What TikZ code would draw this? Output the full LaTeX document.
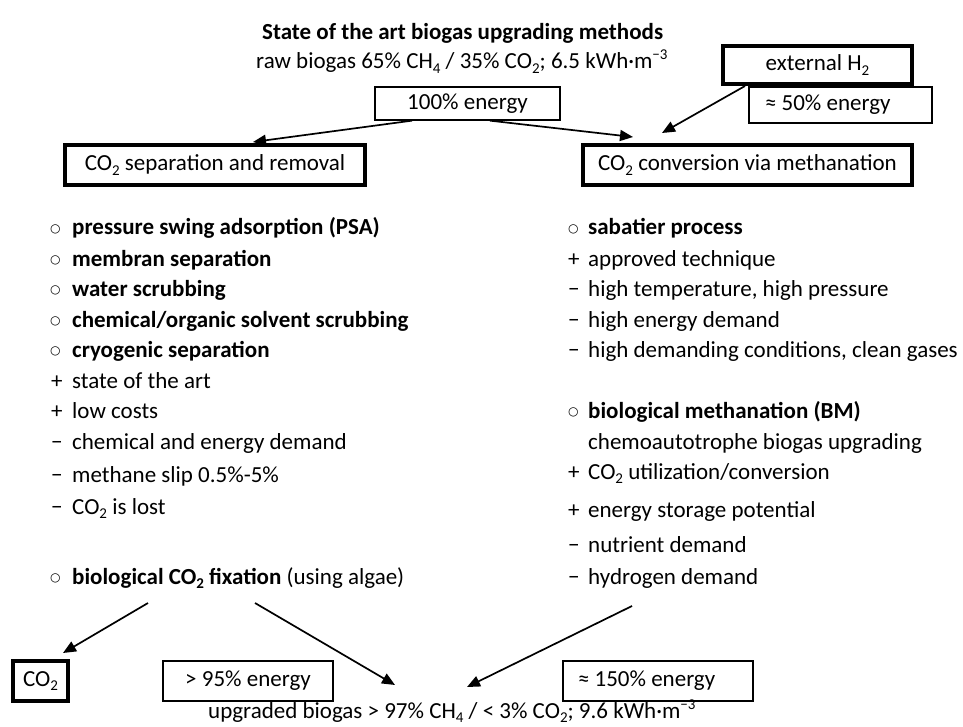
\documentclass[tikz,border=0pt]{standalone}
\usepackage{fontspec}
\setmainfont{Carlito}
\newfontfamily\symfont{DejaVu Sans}
\usetikzlibrary{arrows.meta}
\newcommand{\circb}{\raisebox{2.2pt}{\symfont\fontsize{12}{12}\selectfont ○}}
\newcommand{\mk}[2]{\makebox[#1][l]{#2}}
\newcommand{\sbs}[1]{\raisebox{-4.5pt}{\fontsize{15}{15}\selectfont #1}}
\newcommand{\sps}[1]{\raisebox{9pt}{\fontsize{15}{15}\selectfont #1}}
\begin{document}
\begin{tikzpicture}[x=1pt,y=-1pt,
  every node/.style={font=\fontsize{23}{27}\selectfont, inner sep=0pt},
  txt/.style={anchor=base west},
  thinbox/.style={draw, line width=1.3pt},
  thickbox/.style={draw, line width=4pt},
  arr/.style={line width=1.7pt, -{Triangle[length=13pt,width=11pt]}}]
\useasboundingbox[fill=white] (0,0) rectangle (963,727);

% header
\node[txt] (title) at (262,40) {\textbf{State of the art biogas upgrading methods}};
\node[txt] (raw) at (256,69) {raw biogas 65\% CH\sbs{4} / 35\% CO\sbs{2}; 6.5 kWh·m\sps{−3}};

% boxes top
\node[thinbox, minimum width=185pt, minimum height=33pt] (e100) at (467.5,103.5) {100\% energy};
\node[thickbox, minimum width=189pt, minimum height=38pt] (ext) at (817.5,65) {external H\sbs{2}};
\node[thinbox, minimum width=183pt, minimum height=36pt] (e50) at (840.5,105) {\makebox[183pt][l]{\hspace{16pt}≈ 50\% energy}};
\node[thickbox, minimum width=300pt, minimum height=40pt] (sep) at (215,165) {CO\sbs{2} separation and removal};
\node[thickbox, minimum width=329pt, minimum height=40pt] (conv) at (747.5,165) {CO\sbs{2} conversion via methanation};

% left list
\node[txt] (l1) at (50,235) {\mk{22pt}{\circb}\textbf{pressure swing adsorption (PSA)}};
\node[txt] (l2) at (50,266) {\mk{22pt}{\circb}\textbf{membran separation}};
\node[txt] (l3) at (50,296) {\mk{22pt}{\circb}\textbf{water scrubbing}};
\node[txt] (l4) at (50,327) {\mk{22pt}{\circb}\textbf{chemical/organic solvent scrubbing}};
\node[txt] (l5) at (50,357) {\mk{22pt}{\circb}\textbf{cryogenic separation}};
\node[txt] (l6) at (51,388) {\mk{21pt}{+}state of the art};
\node[txt] (l7) at (51,418) {\mk{21pt}{+}low costs};
\node[txt] (l8) at (51,449) {\mk{21pt}{−}chemical and energy demand};
\node[txt] (l9) at (51,482) {\mk{21pt}{−}methane slip 0.5\%-5\%};
\node[txt] (l10) at (51,514) {\mk{21pt}{−}CO\sbs{2} is lost};
\node[txt] (fix) at (50,584) {\mk{22pt}{\circb}\textbf{biological CO\sbs{2} fixation} (using algae)};

% right list
\node[txt] (r1) at (568,235) {\mk{20pt}{\circb}\textbf{sabatier process}};
\node[txt] (r2) at (568,266) {\mk{20pt}{+}approved technique};
\node[txt] (r3) at (568,296) {\mk{20pt}{−}high temperature, high pressure};
\node[txt] (r4) at (568,327) {\mk{20pt}{−}high energy demand};
\node[txt] (r5) at (568,357) {\mk{20pt}{−}high demanding conditions, clean gases};
\node[txt] (r6) at (568,418) {\mk{20pt}{\circb}\textbf{biological methanation (BM)}};
\node[txt] (r7) at (568,449) {\mk{20pt}{}chemoautotrophe biogas upgrading};
\node[txt] (r8) at (568,479) {\mk{20pt}{+}CO\sbs{2} utilization/conversion};
\node[txt] (r9) at (568,517) {\mk{20pt}{+}energy storage potential};
\node[txt] (r10) at (568,552) {\mk{20pt}{−}nutrient demand};
\node[txt] (hyd) at (568,584) {\mk{20pt}{−}hydrogen demand};

% bottom
\node[thickbox, minimum width=55pt, minimum height=40pt] (co2) at (40.5,681) {CO\sbs{2}};
\node[thinbox, minimum width=170pt, minimum height=40pt] (e95) at (248,681) {> 95\% energy};
\node[thinbox, minimum width=190pt, minimum height=40pt] (e150) at (658,681) {\makebox[190pt][l]{\hspace{15pt}≈ 150\% energy}};
\node[anchor=base west] (up) at (208,718) {upgraded biogas > 97\% CH\sbs{4} / < 3\% CO\sbs{2}; 9.6 kWh·m\sps{−3}};

% arrows
\draw[arr] ([xshift=-55.5pt]e100.south) -- ([xshift=38pt,yshift=1pt]sep.north);
\draw[arr] ([xshift=22.5pt]e100.south) -- ([xshift=-114.5pt,yshift=6pt]conv.north);
\draw[arr] ([xshift=-72.5pt]ext.south) -- ([xshift=-85.5pt,yshift=10pt]conv.north);
\draw[arr] ([xshift=98pt,yshift=-19pt]fix.base west) -- ([xshift=22.5pt,yshift=6pt]co2.north);
\draw[arr] ([xshift=205pt,yshift=-19pt]fix.base west) -- ([xshift=187pt,yshift=33pt]up.base west);
\draw[arr] ([xshift=64pt,yshift=-22pt]hyd.base west) -- ([xshift=259pt,yshift=31pt]up.base west);
\end{tikzpicture}
\end{document}
